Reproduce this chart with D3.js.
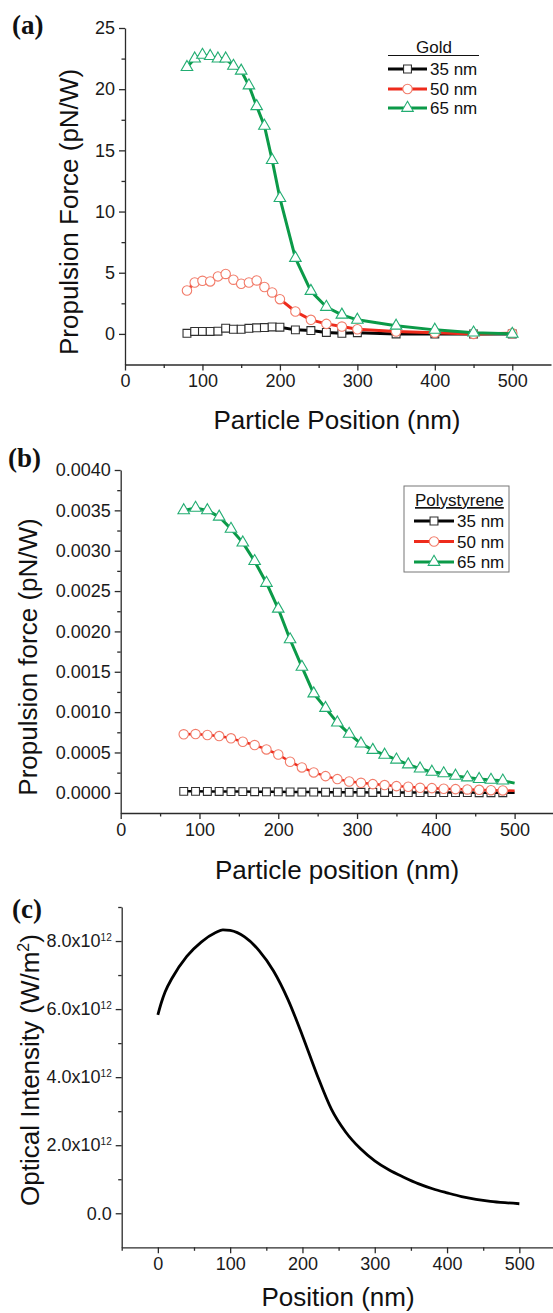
<!DOCTYPE html>
<html>
<head>
<meta charset="utf-8">
<script src="https://cdn.jsdelivr.net/npm/d3@7"></script>
<style>
  body { margin: 0; background: #fff; }
  svg { display: block; font-family: Arial, "Liberation Sans", sans-serif; }
  .axis path, .axis line { stroke: #2b2b2b; stroke-width: 1.3; }
  .title { font-size: 26px; fill: #111; }
  .panel { font-family: "Liberation Serif", "Times New Roman", serif; font-weight: bold; font-size: 27px; fill: #111; }
  .leg { font-size: 17px; fill: #111; }
</style>
</head>
<body>
<script>
// ---- (a) gold particles, force in pN/W
const posA = [80, 90, 100, 110, 120, 130, 140, 150, 160, 170, 180, 190, 200, 220, 240, 260, 280, 300, 350, 400, 450, 500];
const gold35 = [0.05, 0.2, 0.2, 0.2, 0.22, 0.47, 0.38, 0.38, 0.46, 0.5, 0.52, 0.57, 0.55, 0.33, 0.27, 0.12, 0.05, 0.1, 0.0, 0.0, 0.0, 0.0];
const gold50 = [3.55, 4.2, 4.34, 4.29, 4.7, 4.9, 4.43, 4.1, 4.2, 4.37, 3.83, 3.39, 2.84, 1.83, 1.15, 0.82, 0.6, 0.38, 0.19, 0.1, 0.0, 0.05];
const gold65 = [21.8, 22.5, 22.8, 22.7, 22.5, 22.5, 21.9, 21.5, 20.3, 18.6, 17.0, 14.2, 11.1, 6.2, 3.5, 2.2, 1.56, 1.15, 0.66, 0.33, 0.1, 0.0];

// ---- (b) polystyrene particles (last sample at 500 is drawn without a marker)
const posB = [80, 95, 110, 125, 140, 155, 170, 185, 200, 215, 230, 245, 260, 275, 290, 305, 320, 335, 350, 365, 380, 395, 410, 425, 440, 455, 470, 485, 500];
const ps35 = [0.000018, 0.000018, 0.000017, 0.000017, 0.000016, 0.000015, 0.000014, 0.000013, 0.000012, 0.000011, 0.00001, 0.000009, 0.000008, 0.000007, 0.000006, 0.000006, 0.000005, 0.000005, 0.000004, 0.000004, 0.000004, 0.000003, 0.000003, 0.000003, 0.000003, 0.000002, 0.000002, 0.000002, 0.000002];
const ps50 = [0.000725, 0.000728, 0.000716, 0.000703, 0.000675, 0.000633, 0.000592, 0.000538, 0.000475, 0.000385, 0.000315, 0.000253, 0.000207, 0.00017, 0.00014, 0.000124, 0.000108, 0.000096, 0.000083, 0.000075, 0.000062, 0.000058, 0.00005, 0.000046, 0.000042, 0.000037, 0.000033, 0.00003, 0.000025];
const ps65 = [0.0035, 0.00353, 0.0035, 0.00342, 0.00327, 0.0031, 0.00287, 0.0026, 0.00228, 0.0019, 0.00156, 0.00123, 0.00105, 0.00087, 0.00073, 0.00061, 0.00053, 0.00047, 0.00041, 0.00035, 0.0003, 0.00026, 0.00024, 0.00021, 0.00019, 0.00017, 0.00016, 0.00015, 0.00012];

// ---- (c) optical intensity, in units of 10^12 W/m^2
const posC = [0, 5, 10, 20, 40, 60, 80, 90, 100, 120, 140, 160, 180, 200, 220, 240, 260, 280, 300, 320, 340, 360, 380, 400, 420, 440, 460, 480, 500];
const intensity = [5.83, 6.2, 6.5, 6.92, 7.55, 7.97, 8.25, 8.33, 8.31, 8.12, 7.72, 7.12, 6.28, 5.22, 4.08, 3.06, 2.38, 1.9, 1.54, 1.27, 1.06, 0.87, 0.72, 0.6, 0.49, 0.41, 0.35, 0.31, 0.28];

const sizeLabels = ["35 nm", "50 nm", "65 nm"];
const xTicks = [0, 100, 200, 300, 400, 500];
const xMinor = [50, 150, 250, 350, 450];

const styles = [
  {line: "#050505", mark: "#303030", shape: d3.symbolSquare, size: 62},
  {line: "#ee2b1c", mark: "#f27c6a", shape: d3.symbolCircle, size: 70},
  {line: "#0b9a48", mark: "#22ad72", shape: d3.symbolTriangle, size: 58}
];

const svg = d3.select("body").append("svg")
  .attr("width", 553)
  .attr("height", 1313);

svg.append("rect").attr("width", 553).attr("height", 1313).attr("fill", "#fff");

function styleTicks(g) {
  g.attr("font-size", 18).attr("font-family", "Arial, 'Liberation Sans', sans-serif");
  g.selectAll("text").style("font-size", "18px").attr("fill", "#1a1a1a");
}

function drawAxes(xs, ys, xMaj, xMin, yMaj, yMin, yFmt) {
  const x0 = xs.range()[0], yb = ys.range()[0];
  const gx = svg.append("g").attr("class", "axis").attr("transform", `translate(0,${yb})`);
  gx.call(d3.axisBottom(xs).tickValues(xMaj).tickSize(6).tickSizeOuter(0).tickPadding(4).tickFormat(d3.format("d")));
  styleTicks(gx);
  svg.append("g").attr("class", "axis").attr("transform", `translate(0,${yb})`)
    .call(d3.axisBottom(xs).tickValues(xMin).tickSize(3.5).tickFormat(""))
    .select(".domain").remove();

  const gy = svg.append("g").attr("class", "axis").attr("transform", `translate(${x0},0)`);
  gy.call(d3.axisLeft(ys).tickValues(yMaj).tickSize(6).tickSizeOuter(0).tickPadding(4).tickFormat(yFmt));
  styleTicks(gy);
  svg.append("g").attr("class", "axis").attr("transform", `translate(${x0},0)`)
    .call(d3.axisLeft(ys).tickValues(yMin).tickSize(3.5).tickFormat(""))
    .select(".domain").remove();
  return gy;
}

function drawSeries(xs, ys, xv, yv, st, lw, nMarks) {
  const pts = xv.map((x, i) => ({x: x, y: yv[i]}));
  svg.append("path")
    .datum(pts)
    .attr("fill", "none")
    .attr("stroke", st.line)
    .attr("stroke-width", lw)
    .attr("stroke-linejoin", "round")
    .attr("d", d3.line().x(d => xs(d.x)).y(d => ys(d.y)));
  svg.append("g").selectAll("path")
    .data(pts.slice(0, nMarks))
    .enter()
    .append("path")
    .attr("transform", d => `translate(${xs(d.x)},${ys(d.y)})`)
    .attr("d", d3.symbol().type(st.shape).size(st.size))
    .attr("fill", "#fff")
    .attr("stroke", st.mark)
    .attr("stroke-width", 1.1);
}

function drawLegend(lx0, lx1, tx, rowsY) {
  sizeLabels.forEach((lab, i) => {
    const st = styles[i];
    const cy = rowsY[i];
    svg.append("line")
      .attr("x1", lx0).attr("x2", lx1).attr("y1", cy).attr("y2", cy)
      .attr("stroke", st.line).attr("stroke-width", 3);
    svg.append("path")
      .attr("transform", `translate(${(lx0 + lx1) / 2},${cy})`)
      .attr("d", d3.symbol().type(st.shape).size(st.size))
      .attr("fill", "#fff").attr("stroke", st.mark).attr("stroke-width", 1.1);
    svg.append("text").attr("class", "leg")
      .attr("x", tx).attr("y", cy + 6)
      .text(lab);
  });
}

function yTitle(x, y) {
  return svg.append("text").attr("class", "title")
    .attr("text-anchor", "middle")
    .attr("transform", `translate(${x},${y}) rotate(-90)`);
}

// ================= (a)
const xA = d3.scaleLinear().domain([0, 550]).range([125, 551]);
const yA = d3.scaleLinear().domain([-2.5, 25]).range([364.5, 28]);

drawAxes(xA, yA, xTicks, xMinor, [0, 5, 10, 15, 20, 25], [2.5, 7.5, 12.5, 17.5, 22.5], d3.format("d"));
[gold35, gold50, gold65].forEach((s, i) => drawSeries(xA, yA, posA, s, styles[i], 3, posA.length));

svg.append("text").attr("class", "panel").attr("x", 12).attr("y", 34).text("(a)");
svg.append("text").attr("class", "title").attr("text-anchor", "middle")
  .attr("x", 337).attr("y", 429).text("Particle Position (nm)");
yTitle(78, 212).text("Propulsion Force (pN/W)");

svg.append("text").attr("class", "leg").attr("text-anchor", "middle")
  .attr("x", 434).attr("y", 53).text("Gold");
svg.append("line").attr("x1", 388).attr("x2", 479).attr("y1", 55.5).attr("y2", 55.5)
  .attr("stroke", "#111").attr("stroke-width", 1.2);
drawLegend(388, 427, 430, [69, 89, 108]);

// ================= (b)
const xB = d3.scaleLinear().domain([0, 550]).range([120.7, 554]);
const yB = d3.scaleLinear().domain([-0.00025, 0.004]).range([813, 470]);

drawAxes(xB, yB, xTicks, xMinor,
  d3.range(0, 0.00401, 0.0005), d3.range(0.00025, 0.004, 0.0005), d3.format(".4f"));
[ps35, ps50, ps65].forEach((s, i) => drawSeries(xB, yB, posB, s, styles[i], i == 2 ? 3 : 2.5, posB.length - 1));

svg.append("text").attr("class", "panel").attr("x", 8).attr("y", 467).text("(b)");
svg.append("text").attr("class", "title").attr("text-anchor", "middle")
  .attr("x", 337).attr("y", 879).text("Particle position (nm)");
yTitle(37, 657).text("Propulsion force (pN/W)");

svg.append("rect").attr("x", 404).attr("y", 486).attr("width", 105).attr("height", 86)
  .attr("fill", "#fff").attr("stroke", "#777").attr("stroke-width", 1);
svg.append("text").attr("class", "leg")
  .attr("x", 415).attr("y", 506).attr("text-decoration", "underline").text("Polystyrene");
drawLegend(414, 454, 457, [521, 541.5, 562]);

// ================= (c)
const xC = d3.scaleLinear().domain([-50, 550]).range([121.7, 555.5]);
const yC = d3.scaleLinear().domain([-1, 9]).range([1247.3, 907]);

const gyC = drawAxes(xC, yC, xTicks, [-50].concat(xMinor), [0, 2, 4, 6, 8], [1, 3, 5, 7, 9], d => "");
gyC.selectAll(".tick text").each(function(d) {
  const t = d3.select(this);
  if (d === 0) { t.text("0.0"); return; }
  t.text(d3.format(".1f")(d) + "x10");
  t.append("tspan").attr("dy", "-0.6em").style("font-size", "10px").text("12");
});

svg.append("path")
  .datum(posC.map((x, i) => ({x: x, y: intensity[i]})))
  .attr("fill", "none")
  .attr("stroke", "#000")
  .attr("stroke-width", 2.8)
  .attr("d", d3.line().x(d => xC(d.x)).y(d => yC(d.y)).curve(d3.curveMonotoneX));

svg.append("text").attr("class", "panel").attr("x", 12).attr("y", 918).text("(c)");
svg.append("text").attr("class", "title").attr("text-anchor", "middle")
  .attr("x", 338).attr("y", 1306).text("Position (nm)");
const tC = yTitle(39, 1070);
tC.append("tspan").text("Optical Intensity (W/m");
tC.append("tspan").attr("dy", -10).attr("font-size", "16px").text("2");
tC.append("tspan").attr("dy", 10).text(")");
</script>
</body>
</html>
